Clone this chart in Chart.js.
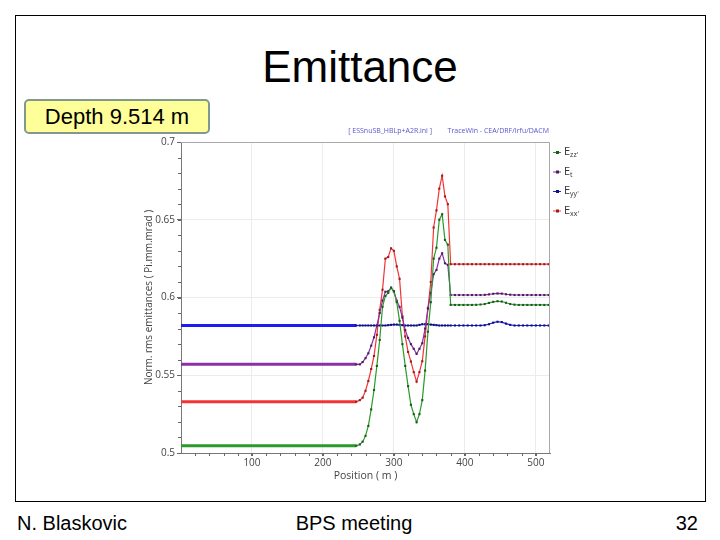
<!DOCTYPE html>
<html>
<head>
<meta charset="utf-8">
<script src="https://cdn.jsdelivr.net/npm/chart.js@4.4.1/dist/chart.umd.min.js"></script>
<style>
  body { margin: 0; width: 720px; height: 540px; background: #fff; position: relative; overflow: hidden;
         font-family: 'Liberation Sans', Arial, sans-serif; }
  #frame { position: absolute; left: 15px; top: 15px; width: 691px; height: 487px; border: 1px solid #000; box-sizing: border-box; }
  #title { position: absolute; left: 0; width: 720px; top: 40px; text-align: center; font-size: 44px; line-height: 54px; color: #000; }
  #depth { position: absolute; left: 24px; top: 99px; width: 186px; height: 35px; box-sizing: border-box;
           background: #ffff99; border: 2px solid #7f9a8c; border-radius: 5px;
           font-size: 22px; line-height: 31px; text-align: center; color: #000; }
  .foot { position: absolute; top: 510px; font-size: 20px; line-height: 26px; color: #000; }
  #chartBox { position: absolute; left: 130px; top: 120px; }
</style>
</head>
<body>
<div id="frame"></div>
<div id="title">Emittance</div>
<div id="depth">Depth 9.514 m</div>
<div id="chartBox"><canvas id="emitChart" width="460" height="370"></canvas></div>
<div class="foot" style="left:17px">N. Blaskovic</div>
<div class="foot" style="left:254px;width:200px;text-align:center">BPS meeting</div>
<div class="foot" style="right:22px">32</div>

<script>
// ── Data (position in m, emittances in Pi.mm.mrad) ─────────────
const positions = [
  0, 20, 40, 60, 80, 100, 120, 140, 160, 180, 200, 220, 240,
  247, 252, 256, 260, 264, 268, 272, 276, 280, 284, 288, 292, 296, 300, 304, 308, 312, 316, 320,
  324, 328, 332, 336, 340, 344, 348, 352, 356, 360, 364, 368, 372, 376, 380,
  386, 392, 398, 404, 410, 416, 422, 428, 434, 440, 446, 452, 458, 464, 470, 476, 482, 488, 494, 500, 506, 512, 518
];

const ezz = [
  0.5047, 0.5047, 0.5047, 0.5047, 0.5047, 0.5047, 0.5047, 0.5047, 0.5047, 0.5047, 0.5047, 0.5047, 0.5047,
  0.5047, 0.5055, 0.5073, 0.511, 0.5174, 0.528, 0.5405, 0.556, 0.5727, 0.594, 0.601, 0.603, 0.6063, 0.604, 0.597, 0.585, 0.570, 0.556, 0.543,
  0.531, 0.525, 0.5198, 0.525, 0.534, 0.553, 0.578, 0.597, 0.625, 0.632, 0.650, 0.6535, 0.637, 0.634, 0.5952,
  0.5952, 0.5952, 0.5952, 0.5952, 0.5952, 0.5953, 0.5955, 0.5958, 0.5965, 0.5972, 0.5976, 0.5974, 0.5966, 0.5958, 0.5954, 0.5952, 0.5952, 0.5952, 0.5952, 0.5952, 0.5952, 0.5952, 0.5952
];

const et = [
  0.557, 0.557, 0.557, 0.557, 0.557, 0.557, 0.557, 0.557, 0.557, 0.557, 0.557, 0.557, 0.557,
  0.557, 0.557, 0.5585, 0.561, 0.5641, 0.569, 0.5744, 0.582, 0.590, 0.598, 0.6037, 0.604, 0.6063, 0.604, 0.598, 0.594, 0.587, 0.579, 0.574,
  0.570, 0.567, 0.5637, 0.567, 0.5706, 0.580, 0.593, 0.603, 0.615, 0.6177, 0.625, 0.6284, 0.622, 0.621, 0.6016,
  0.6016, 0.6016, 0.6016, 0.6016, 0.6016, 0.6016, 0.6016, 0.6017, 0.602, 0.6024, 0.6026, 0.6025, 0.6021, 0.6018, 0.6016, 0.6016, 0.6016, 0.6016, 0.6016, 0.6016, 0.6016, 0.6016, 0.6016
];

const eyy = [
  0.582, 0.582, 0.582, 0.582, 0.582, 0.582, 0.582, 0.582, 0.582, 0.582, 0.582, 0.582, 0.582,
  0.582, 0.582, 0.582, 0.582, 0.582, 0.582, 0.582, 0.582, 0.582, 0.582, 0.582, 0.5822, 0.5824, 0.5826, 0.5826, 0.5824, 0.5822, 0.582, 0.582,
  0.582, 0.582, 0.582, 0.5824, 0.5828, 0.5828, 0.5828, 0.5826, 0.5824, 0.5822, 0.582, 0.582, 0.582, 0.582, 0.582,
  0.582, 0.582, 0.582, 0.582, 0.582, 0.582, 0.582, 0.5822, 0.5828, 0.5838, 0.5844, 0.5842, 0.5832, 0.5824, 0.582, 0.582, 0.582, 0.582, 0.582, 0.582, 0.582, 0.582, 0.582
];

const exx = [
  0.533, 0.533, 0.533, 0.533, 0.533, 0.533, 0.533, 0.533, 0.533, 0.533, 0.533, 0.533, 0.533,
  0.533, 0.534, 0.5356, 0.540, 0.5463, 0.554, 0.5624, 0.576, 0.592, 0.605, 0.625, 0.626, 0.6316, 0.630, 0.620, 0.612, 0.588, 0.575, 0.565,
  0.5588, 0.552, 0.5459, 0.552, 0.559, 0.575, 0.593, 0.610, 0.645, 0.656, 0.670, 0.6783, 0.665, 0.660, 0.6214,
  0.6214, 0.6214, 0.6214, 0.6214, 0.6214, 0.6214, 0.6214, 0.6214, 0.6214, 0.6214, 0.6214, 0.6214, 0.6214, 0.6214, 0.6214, 0.6214, 0.6214, 0.6214, 0.6214, 0.6214, 0.6214, 0.6214, 0.6214
];

const seriesNames  = ["zz'", 't', "yy'", "xx'"];
const seriesValues = [ezz, et, eyy, exx];
const lineColors   = ['#2a9a2a', '#8a2fa8', '#1c1cf0', '#f43434'];
const markColors   = ['#1d5a1d', '#4a1f5a', '#10107a', '#9a1c1c'];

const yTicks = [0.5, 0.55, 0.6, 0.65, 0.7];
const xTicks = [100, 200, 300, 400, 500];

// ── Extra drawing: minor ticks, frame, legend, header ─────────
const extras = {
  id: 'extras',
  afterDraw(chart) {
    const { ctx, chartArea: a, scales: { x, y } } = chart;
    ctx.save();
    ctx.lineWidth = 1;

    // plot frame (top/right lighter)
    ctx.strokeStyle = '#a8a8a8';
    ctx.beginPath();
    ctx.moveTo(a.left, a.top + 0.5); ctx.lineTo(a.right - 0.5, a.top + 0.5); ctx.lineTo(a.right - 0.5, a.bottom);
    ctx.stroke();

    // minor ticks
    ctx.strokeStyle = '#666';
    ctx.beginPath();
    for (let v = 20; v < 520; v += 20) {
      const px = Math.round(x.getPixelForValue(v)) + 0.5;
      ctx.moveTo(px, a.bottom); ctx.lineTo(px, a.bottom + 3);
    }
    for (let v = 50; v < 70; v += 1) {
      const py = Math.round(y.getPixelForValue(v / 100)) + 0.5;
      ctx.moveTo(a.left - 3, py); ctx.lineTo(a.left, py);
    }
    ctx.stroke();

    // header
    ctx.fillStyle = '#5757d0';
    ctx.font = "7px 'Open Sans', sans-serif";
    ctx.textBaseline = 'middle';
    ctx.textAlign = 'right';
    ctx.fillText('TraceWin - CEA/DRF/Irfu/DACM', a.right - 1, a.top - 11);
    ctx.fillText('[ ESSnuSB_HBLp+A2R.ini ]', a.right - 118, a.top - 11);

    // legend
    ctx.textAlign = 'left';
    seriesNames.forEach((name, i) => {
      const ly = a.top + 10 + i * 19.5;
      const lx = a.right + 3;
      ctx.strokeStyle = lineColors[i];
      ctx.beginPath(); ctx.moveTo(lx, ly + 0.5); ctx.lineTo(lx + 8, ly + 0.5); ctx.stroke();
      ctx.fillStyle = markColors[i];
      ctx.fillRect(lx + 3, ly - 1, 3, 3);
      ctx.fillStyle = '#333';
      ctx.font = "11px 'Open Sans', sans-serif";
      ctx.fillText('E', lx + 11, ly);
      const w = ctx.measureText('E').width;
      ctx.font = "7px 'Open Sans', sans-serif";
      ctx.fillText(name, lx + 11 + w, ly + 3);
    });
    ctx.restore();
  }
};

const datasets = seriesNames.map((name, i) => ({
  label: 'E' + name,
  data: positions.map((p, k) => ({ x: p, y: seriesValues[i][k] })),
  borderColor: lineColors[i],
  backgroundColor: markColors[i],
  pointStyle: 'rect',
  pointBackgroundColor: markColors[i],
  pointBorderWidth: 0,
  pointRadius: c => (c.raw && c.raw.x < 245) ? 0 : 1.5,
  borderWidth: 1.2,
  segment: { borderWidth: c => c.p0.parsed.x < 245 ? 3 : 1.2 },
  tension: 0
}));

new Chart(document.getElementById('emitChart'), {
  type: 'line',
  data: { datasets },
  options: {
    responsive: false,
    animation: false,
    events: [],
    layout: { padding: { top: 22, right: 40, left: 0, bottom: 0 } },
    plugins: { legend: { display: false }, tooltip: { enabled: false } },
    scales: {
      x: {
        type: 'linear', min: 0, max: 520,
        afterBuildTicks: s => { s.ticks = xTicks.map(v => ({ value: v })); },
        afterFit: s => { s.height = 37; },
        border: { color: '#777' },
        grid: { color: '#ececec', tickColor: '#666', tickLength: 3 },
        ticks: { color: '#444', padding: 1, font: { family: "'Open Sans', sans-serif", size: 10 } },
        title: { display: true, text: 'Position ( m )', color: '#444', padding: { top: 0, bottom: 8 },
                 font: { family: "'Open Sans', sans-serif", size: 10.5 } }
      },
      y: {
        type: 'linear', min: 0.5, max: 0.7,
        afterBuildTicks: s => { s.ticks = yTicks.map(v => ({ value: v })); },
        afterFit: s => { s.width = 51; },
        border: { color: '#777' },
        grid: { color: '#ececec', tickColor: '#666', tickLength: 4 },
        ticks: { color: '#444', padding: 2, callback: v => String(Math.round(v * 100) / 100),
                 font: { family: "'Open Sans', sans-serif", size: 10 } },
        title: { display: true, text: 'Norm. rms emittances ( Pi.mm.mrad )', color: '#444', padding: { top: 13, bottom: 0 },
                 font: { family: "'Open Sans', sans-serif", size: 10 } }
      }
    }
  },
  plugins: [extras]
});
</script>
</body>
</html>
